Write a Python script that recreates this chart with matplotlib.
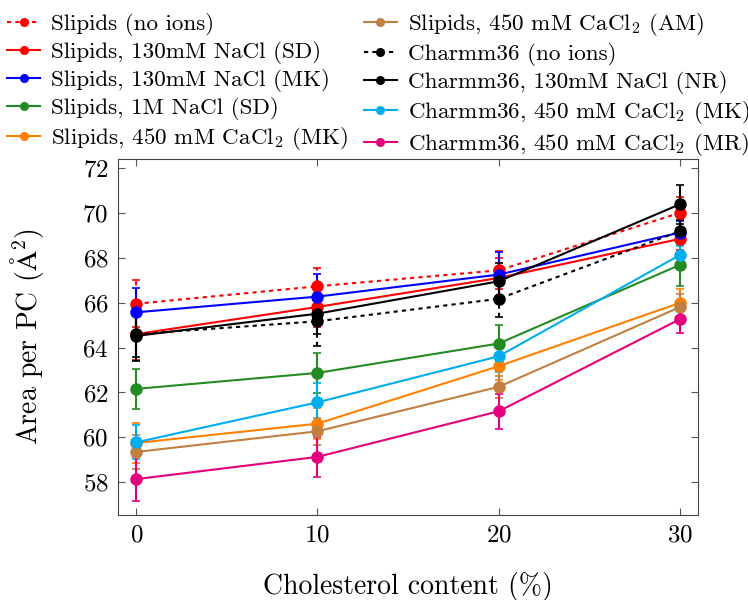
import matplotlib
matplotlib.use("Agg")
import matplotlib.pyplot as plt
from matplotlib.lines import Line2D

plt.rcParams['font.family'] = ['serif']
plt.rcParams['font.serif'] = ['cmr10', 'DejaVu Serif']
plt.rcParams['mathtext.fontset'] = 'cm'
plt.rcParams['axes.formatter.use_mathtext'] = True

cholesterol = [0, 10, 20, 30]

labels = [
    "Slipids (no ions)",
    "Slipids, 130mM NaCl (SD)",
    "Slipids, 130mM NaCl (MK)",
    "Slipids, 1M NaCl (SD)",
    r"Slipids, 450 mM CaCl$_2$ (MK)",
    r"Slipids, 450 mM CaCl$_2$ (AM)",
    "Charmm36 (no ions)",
    "Charmm36, 130mM NaCl (NR)",
    r"Charmm36, 450 mM CaCl$_2$ (MK)",
    r"Charmm36, 450 mM CaCl$_2$ (MR)",
]

slipids_noions = [65.95, 66.73, 67.44, 70.0]
slipids_130_sd = [64.6, 65.81, 67.1, 68.84]
slipids_130_mk = [65.57, 66.27, 67.25, 69.12]
slipids_1m_sd = [62.16, 62.87, 64.18, 67.68]
slipids_450_mk = [59.75, 60.61, 63.17, 65.99]
slipids_450_am = [59.35, 60.27, 62.25, 65.8]
charmm_noions = [64.6, 65.17, 66.17, 69.18]
charmm_130_nr = [64.52, 65.51, 66.95, 70.38]
charmm_450_mk = [59.78, 61.56, 63.61, 68.12]
charmm_450_mr = [58.14, 59.13, 61.16, 65.26]

err_slipids_noions = [1.05, 0.8, 0.85, 0.7]
err_slipids_130_sd = [1.15, 0.9, 0.9, 0.5]
err_slipids_130_mk = [1.1, 1.0, 1.0, 0.5]
err_slipids_1m_sd = [0.9, 0.9, 0.83, 0.94]
err_slipids_450_mk = [0.9, 0.7, 0.6, 0.6]
err_slipids_450_am = [0.75, 0.6, 0.5, 0.6]
err_charmm_noions = [1.0, 1.1, 0.8, 0.5]
err_charmm_130_nr = [1.1, 0.9, 0.8, 0.86]
err_charmm_450_mk = [0.76, 0.87, 0.7, 0.4]
err_charmm_450_mr = [0.97, 0.89, 0.77, 0.63]

series = [slipids_noions, slipids_130_sd, slipids_130_mk, slipids_1m_sd,
          slipids_450_mk, slipids_450_am, charmm_noions, charmm_130_nr,
          charmm_450_mk, charmm_450_mr]
errors = [err_slipids_noions, err_slipids_130_sd, err_slipids_130_mk,
          err_slipids_1m_sd, err_slipids_450_mk, err_slipids_450_am,
          err_charmm_noions, err_charmm_130_nr, err_charmm_450_mk,
          err_charmm_450_mr]
colors = ['#ff0000', '#ff0000', '#0000ff', '#228b22', '#ff8000', '#bf8040',
          '#000000', '#000000', '#00aeef', '#e6007e']
dashed = [True, False, False, False, False, False, True, False, False, False]

fig = plt.figure(figsize=(7.48, 6.0), dpi=100)
ax = fig.add_axes([0.158, 0.142, 0.775, 0.593])

handles = []
for vals, err, col, dsh, lab in zip(series, errors, colors, dashed, labels):
    ls = (0, (2, 2)) if dsh else '-'
    cont = ax.errorbar(cholesterol, vals, yerr=err, color=col, linestyle=ls,
                       linewidth=1.5, marker='o', markersize=8,
                       capsize=3, capthick=1.2, elinewidth=1.5, label=lab)
    if dsh:
        cont[2][0].set_linestyle((0, (2, 2)))
    handles.append(Line2D([], [], color=col, linestyle=ls, linewidth=1.5,
                          marker='o', markersize=5.5))

ax.set_xlim(-1, 31)
ax.set_ylim(56.55, 72.4)
ax.set_xticks([0, 10, 20, 30])
ax.set_yticks(list(range(58, 73, 2)))
ax.tick_params(direction='in', top=True, right=True, labelsize=18,
               length=5, color='#555555', pad=7)
for sp in ax.spines.values():
    sp.set_color('#444444')
ax.set_xlabel('Cholesterol content (%)', fontsize=20, labelpad=18)
ax.set_ylabel(r'Area per PC ($\mathrm{\AA}^2$)', fontsize=20)
ax.yaxis.set_label_coords(-0.125, 0.5)

fig.legend(handles=handles, labels=labels, ncol=2, loc='upper left',
           bbox_to_anchor=(0.0, 0.993), frameon=False, fontsize=16.6,
           handlelength=1.45, handletextpad=0.45, columnspacing=0.7,
           labelspacing=0.22, borderaxespad=0.0, borderpad=0.3)

fig.savefig('out.png', dpi=100)
